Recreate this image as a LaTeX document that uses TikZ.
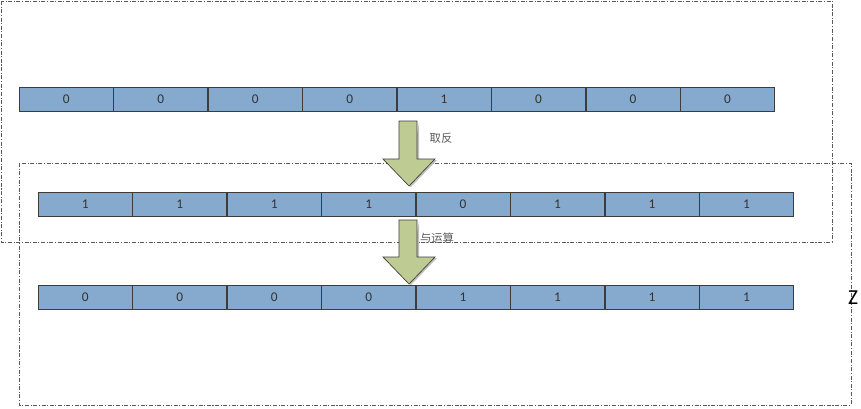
\documentclass[tikz,border=0pt]{standalone}
\usepackage{fontspec}
\setmainfont{Carlito}
\newfontfamily\cjk{Noto Sans CJK SC}
\usetikzlibrary{positioning}

\definecolor{cellblue}{RGB}{133,170,206}
\definecolor{arrowgreen}{RGB}{190,203,147}
\definecolor{edgegray}{RGB}{60,60,60}

\begin{document}
\begin{tikzpicture}[x=0.75pt,y=-0.75pt,
  bit/.style={draw=edgegray,fill=cellblue,minimum width=70.45pt,minimum height=18pt,
    inner sep=0pt,text=black!80,font=\fontsize{10}{11}\selectfont},
  frame/.style={draw=black!65,line width=0.5pt,dash pattern=on 3pt off 1.2pt on 0.8pt off 1.2pt},
  blockarrow/.style={draw=edgegray,fill=arrowgreen,line width=0.5pt,line join=miter},
  note/.style={text=black!65,font=\cjk\fontsize{8.5}{10}\selectfont}]

\useasboundingbox (0,0) rectangle (861,408);

% dashed frames
\draw[frame] (1,1) rectangle (832,242);
\draw[frame] (19,163) rectangle (851,405);

% rows of bits
\node[bit,anchor=west] (a1) at (19,99) {0};
\foreach \v [count=\i from 2] in {0,0,0,1,0,0,0} {
  \pgfmathtruncatemacro\p{\i-1}
  \node[bit,right=0pt of a\p] (a\i) {\v};
}
\node[bit,anchor=west] (b1) at (38,204.5) {1};
\foreach \v [count=\i from 2] in {1,1,1,0,1,1,1} {
  \pgfmathtruncatemacro\p{\i-1}
  \node[bit,right=0pt of b\p] (b\i) {\v};
}
\node[bit,anchor=west] (c1) at (38,297.5) {0};
\foreach \v [count=\i from 2] in {0,0,0,1,1,1,1} {
  \pgfmathtruncatemacro\p{\i-1}
  \node[bit,right=0pt of c\p] (c\i) {\v};
}

% arrows
\foreach \t/\h/\e in {121/159/186, 220/257/284} {
  \fill[black!25] (419,\t+1) -- (419,\h+1) -- (437,\h+1) -- (411,\e+1) -- (409,\e) -- cycle;
  \draw[blockarrow] (399,\t) -- (417,\t) -- (417,\h) -- (435,\h) -- (409,\e)
    -- (383,\h) -- (399,\h) -- cycle;
}

\node[note] (inv) at (441,138) {取反};
\node[note] (and) at (437,238) {与运算};
\node[font=\fontsize{16}{18}\selectfont] (z) at (853,298) {Z};

\end{tikzpicture}
\end{document}
